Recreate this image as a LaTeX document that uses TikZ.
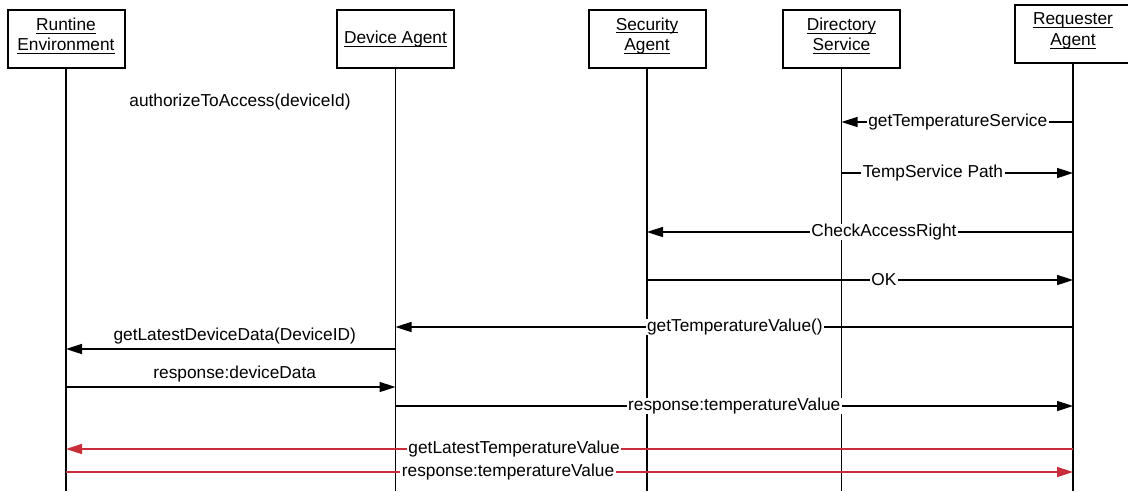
\documentclass[tikz,border=0pt]{standalone}
\usepackage{fontspec}
\setmainfont{Liberation Sans}
\usetikzlibrary{arrows.meta}
\definecolor{msgred}{HTML}{C92D39}
% underline at a fixed distance below the baseline
\newcommand\uln[1]{\setbox0\hbox{#1}\rlap{\vrule height -2.2pt depth 3.2pt width \wd0}\box0}
\begin{document}
\begin{tikzpicture}[x=1pt,y=-1pt,
  font=\fontsize{17.3}{20.5}\selectfont,
  actor/.style={draw=black, line width=2pt, fill=white, minimum width=117pt,
    minimum height=58pt, inner sep=0pt},
  actortext/.style={align=center, inner sep=0pt, text=black},
  life/.style={line width=1.8pt},
  msg/.style={line width=1.6pt, -{Triangle[length=16pt,width=10pt]}},
  redmsg/.style={msg, draw=msgred, fill=msgred},
  onl/.style={fill=white, inner xsep=1.5pt, inner ysep=0pt, text=black},
  abv/.style={above=4pt, inner sep=0pt, text=black}
]
\useasboundingbox (0,0) rectangle (1128,491);

% participants
\node[actor] (re) at (66,39)    {};
\node[actor] (da) at (395.5,39) {};
\node[actor] (sa) at (647,39)   {};
\node[actor] (ds) at (841.5,39) {};
\node[actor] (ra) at (1073,34)  {};
\node[actortext] (ret) at ([yshift=3pt]re.center) {\uln{Runtine}\\\uln{Environment}};
\node[actortext] (dat) at (da.center) {\uln{Device Agent}};
\node[actortext] (sat) at ([yshift=3pt]sa.center) {\uln{Security}\\\uln{Agent}};
\node[actortext] (dst) at ([yshift=3pt]ds.center) {\uln{Directory}\\\uln{Service}};
\node[actortext] (rat) at ([yshift=3pt]ra.center) {\uln{Requester}\\\uln{Agent}};

% lifelines
\coordinate (bot) at (0,491);
\foreach \p in {re,da,sa,ds,ra}
  \draw[life] (\p.south) -- (\p |- bot);

% message rows
\coordinate (r1) at (0,122);
\coordinate (r2) at (0,173);
\coordinate (r3) at (0,232);
\coordinate (r4) at (0,280);
\coordinate (r5) at (0,327);
\coordinate (r6) at (0,349);
\coordinate (r7) at (0,387);
\coordinate (r8) at (0,406);
\coordinate (r9) at (0,449);
\coordinate (r10) at (0,472);

\node[inner sep=0pt] (auth) at (240,102) {authorizeToAccess(deviceId)};

\draw[msg] (ra |- r1) -- node[onl,pos=.498] (l1) {getTemperatureService} (ds |- r1);
\draw[msg] (ds |- r2) -- node[onl,pos=.395] (l2) {TempService Path} (ra |- r2);
\draw[msg] (ra |- r3) -- node[onl,pos=.444] (l3) {CheckAccessRight} (sa |- r3);
\draw[msg] (sa |- r4) -- node[onl,pos=.556] (l4) {OK} (ra |- r4);
\draw[msg] (ra |- r5) -- node[onl,pos=.499] (l5) {getTemperatureValue()} (da |- r5);
\draw[msg] (da |- r6) -- node[abv,pos=.488] (l6) {getLatestDeviceData(DeviceID)} (re |- r6);
\draw[msg] (re |- r7) -- node[abv,pos=.512] (l7) {response:deviceData} (da |- r7);
\draw[msg] (da |- r8) -- node[onl,pos=.5] (l8) {response:temperatureValue} (ra |- r8);
\draw[redmsg] (ra |- r9) -- node[onl,pos=.555] (l9) {getLatestTemperatureValue} (re |- r9);
\draw[redmsg] (re |- r10) -- node[onl,pos=.439] (l10) {response:temperatureValue} (ra |- r10);
\end{tikzpicture}
\end{document}
